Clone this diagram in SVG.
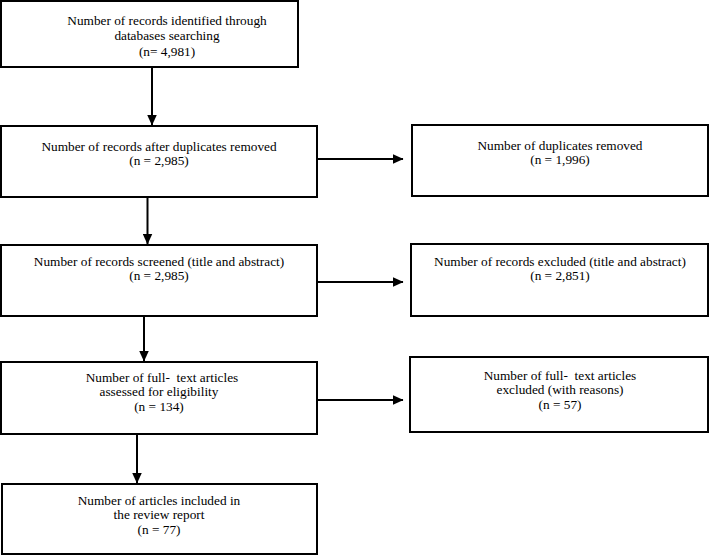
<svg xmlns="http://www.w3.org/2000/svg" width="709" height="555" viewBox="0 0 709 555">
<style>
.box{fill:#fff;stroke:#000;stroke-width:2}
.t{font-family:'Liberation Serif','Times New Roman',serif;font-size:13.3px;fill:#000;text-anchor:middle}
.c{stroke:#000;stroke-width:2;fill:none}
</style>
<defs>
<marker id="ah" markerWidth="11" markerHeight="10" refX="10.5" refY="5" orient="auto" markerUnits="userSpaceOnUse">
<path d="M0,0 L11,5 L0,10 Z" fill="#000"/>
</marker>
</defs>
<rect width="709" height="555" fill="#fff"/>
<g id="connectors">
<line class="c" x1="152" y1="67" x2="152" y2="125" marker-end="url(#ah)"/>
<line class="c" x1="147.5" y1="197" x2="147.5" y2="244" marker-end="url(#ah)"/>
<line class="c" x1="144" y1="316" x2="144" y2="361" marker-end="url(#ah)"/>
<line class="c" x1="137" y1="434" x2="137" y2="483" marker-end="url(#ah)"/>
<line class="c" x1="317" y1="159" x2="403" y2="159" marker-end="url(#ah)"/>
<line class="c" x1="317" y1="282" x2="403" y2="282" marker-end="url(#ah)"/>
<line class="c" x1="317" y1="400" x2="403" y2="400" marker-end="url(#ah)"/>
</g>
<g id="n1">
<rect class="box" x="1" y="1" width="297" height="66"/>
<text class="t" x="167" y="25">Number of records identified through</text>
<text class="t" x="167" y="40">databases searching</text>
<text class="t" x="167" y="56">(n= 4,981)</text>
</g>
<g id="n2">
<rect class="box" x="1" y="126" width="316" height="71"/>
<text class="t" x="159" y="151">Number of records after duplicates removed</text>
<text class="t" x="159" y="165">(n = 2,985)</text>
</g>
<g id="n3">
<rect class="box" x="412" y="125" width="296" height="71"/>
<text class="t" x="560" y="150">Number of duplicates removed</text>
<text class="t" x="560" y="164">(n = 1,996)</text>
</g>
<g id="n4">
<rect class="box" x="1" y="245" width="316" height="71"/>
<text class="t" x="159" y="266">Number of records screened (title and abstract)</text>
<text class="t" x="159" y="280">(n = 2,985)</text>
</g>
<g id="n5">
<rect class="box" x="411" y="244" width="297" height="72"/>
<text class="t" x="560" y="266">Number of records excluded (title and abstract)</text>
<text class="t" x="560" y="280">(n = 2,851)</text>
</g>
<g id="n6">
<rect class="box" x="1" y="362" width="316" height="72"/>
<text class="t" x="162" y="382" xml:space="preserve">Number of full-  text articles</text>
<text class="t" x="159" y="396">assessed for eligibility</text>
<text class="t" x="159" y="411">(n = 134)</text>
</g>
<g id="n7">
<rect class="box" x="410" y="357" width="298" height="75"/>
<text class="t" x="560" y="380" xml:space="preserve">Number of full-  text articles</text>
<text class="t" x="560" y="394">excluded (with reasons)</text>
<text class="t" x="560" y="409">(n = 57)</text>
</g>
<g id="n8">
<rect class="box" x="2" y="484" width="315" height="70"/>
<text class="t" x="159" y="505">Number of articles included in</text>
<text class="t" x="159" y="519">the review report</text>
<text class="t" x="159" y="534">(n = 77)</text>
</g>
</svg>
